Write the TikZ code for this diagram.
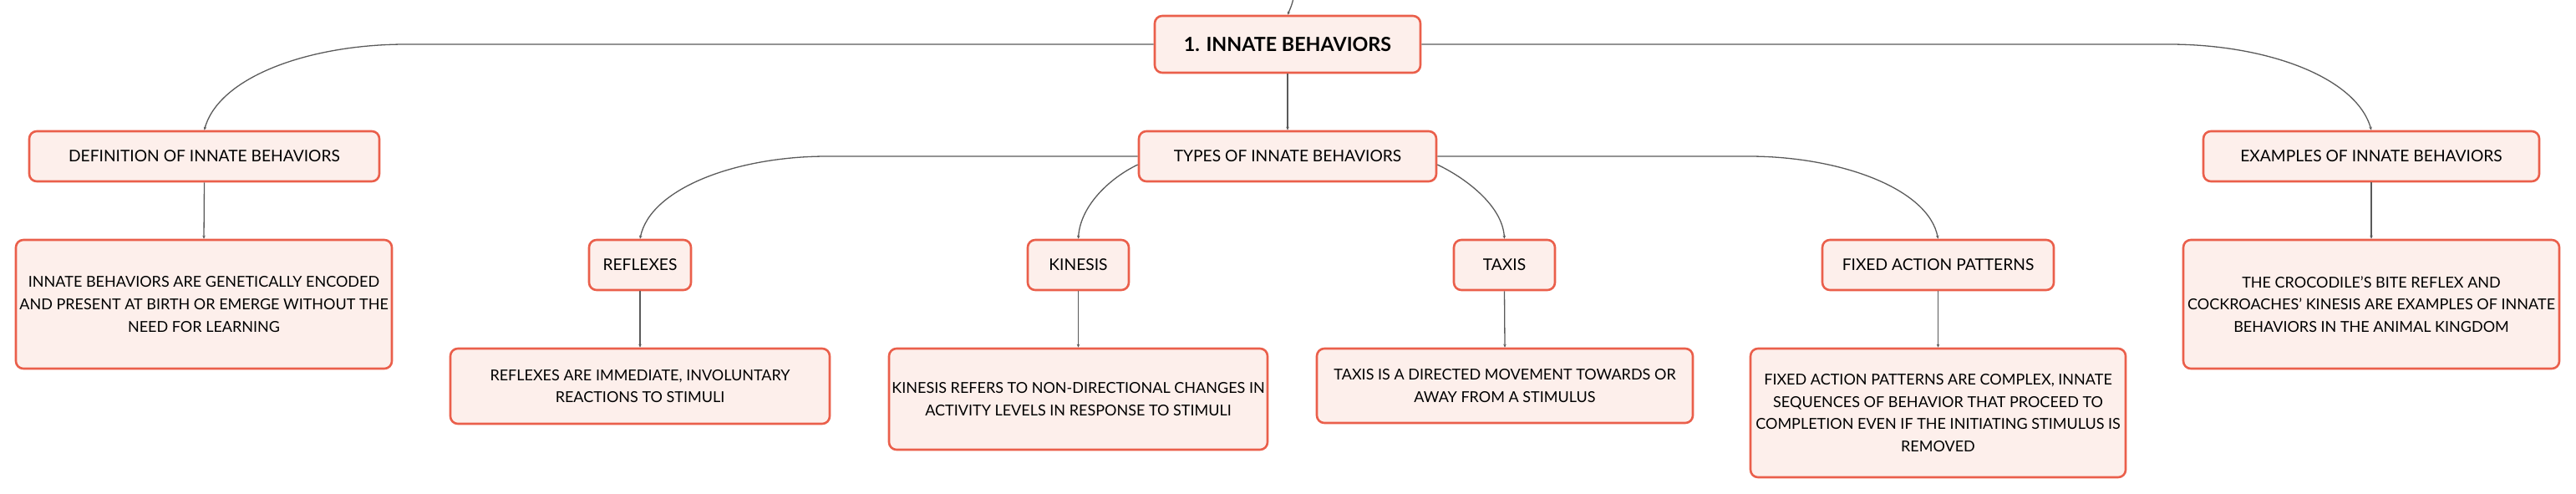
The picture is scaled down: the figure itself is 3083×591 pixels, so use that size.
\documentclass[tikz,border=0pt]{standalone}
\usepackage{fontspec}
\setmainfont{Lato}
\usetikzlibrary{arrows.meta}
\definecolor{bord}{HTML}{EA5F4B}
\definecolor{fillc}{HTML}{FDEFEB}
\definecolor{linec}{HTML}{5A5A5A}
\tikzset{
  mbox/.style={draw=bord, fill=fillc, line width=2.6pt, rounded corners=9pt, align=center, inner sep=0pt, font=\fontsize{19.2}{26.5}\selectfont},
  descbox/.style={mbox, font=\fontsize{18}{26.7}\selectfont},
  rootbox/.style={mbox, font=\fontsize{23.3}{28}\selectfont\bfseries},
  conn/.style={draw=linec, line width=1.3pt, -{Stealth[length=4pt,width=3.5pt]}},
}
\begin{document}
\begin{tikzpicture}[x=1pt,y=-1pt]
\useasboundingbox (0,0) rectangle (3083,591);
% level 0
\node[rootbox, minimum width=318pt, minimum height=68pt] (root) at (1541,53) {1. INNATE BEHAVIORS};
% level 1
\node[mbox, minimum width=419pt, minimum height=60pt] (def) at (244.5,187) {DEFINITION OF INNATE BEHAVIORS};
\node[mbox, minimum width=356pt, minimum height=60pt] (types) at (1541,187) {TYPES OF INNATE BEHAVIORS};
\node[mbox, minimum width=402pt, minimum height=60pt] (ex) at (2838,187) {EXAMPLES OF INNATE BEHAVIORS};
% level 2
\node[descbox, minimum width=450pt, minimum height=154pt] (deft) at (244,364) {INNATE BEHAVIORS ARE GENETICALLY ENCODED\\AND PRESENT AT BIRTH OR EMERGE WITHOUT THE\\NEED FOR LEARNING};
\node[descbox, minimum width=450pt, minimum height=154pt] (ext) at (2838,364) {THE CROCODILE'S BITE REFLEX AND\\COCKROACHES' KINESIS ARE EXAMPLES OF INNATE\\BEHAVIORS IN THE ANIMAL KINGDOM};
\node[mbox, minimum width=122pt, minimum height=60pt] (refl) at (766,317) {REFLEXES};
\node[mbox, minimum width=121pt, minimum height=60pt] (kin) at (1290.5,317) {KINESIS};
\node[mbox, minimum width=121pt, minimum height=60pt] (tax) at (1800.5,317) {TAXIS};
\node[mbox, minimum width=277pt, minimum height=60pt] (fap) at (2319.5,317) {FIXED ACTION PATTERNS};
% level 3
\node[descbox, minimum width=454pt, minimum height=90pt] (reflt) at (766,462) {REFLEXES ARE IMMEDIATE, INVOLUNTARY\\REACTIONS TO STIMULI};
\node[descbox, minimum width=453pt, minimum height=121pt] (kint) at (1290.5,477.5) {KINESIS REFERS TO NON-DIRECTIONAL CHANGES IN\\ACTIVITY LEVELS IN RESPONSE TO STIMULI};
\node[descbox, minimum width=450pt, minimum height=89pt] (taxt) at (1801,461.5) {TAXIS IS A DIRECTED MOVEMENT TOWARDS OR\\AWAY FROM A STIMULUS};
\node[descbox, minimum width=449pt, minimum height=154pt] (fapt) at (2319.5,494) {FIXED ACTION PATTERNS ARE COMPLEX, INNATE\\SEQUENCES OF BEHAVIOR THAT PROCEED TO\\COMPLETION EVEN IF THE INITIATING STIMULUS IS\\REMOVED};
% incoming line from above
\coordinate (above) at (1548,-2);
\draw[conn] (above) .. controls (1546,6) .. (root.north);
% root to level 1
\draw[conn] (root.west) -- (486,53) .. controls (370,53) and (262,92) .. (def.north);
\draw[conn] (root.south) -- (types.north);
\draw[conn] (root.east) -- (2596,53) .. controls (2712,53) and (2820,92) .. (ex.north);
% level 1 to level 2
\draw[conn] (def.south) -- (deft.north);
\draw[conn] (ex.south) -- (ext.north);
\draw[conn] (types.west) -- (990,187) .. controls (880,187) and (778,226) .. (refl.north);
\draw[conn] ([yshift=-10pt]types.west) .. controls (1330,212) and (1293,245) .. (kin.north);
\draw[conn] ([yshift=-10pt]types.east) .. controls (1752,212) and (1798,245) .. (tax.north);
\draw[conn] (types.east) -- (2093,187) .. controls (2203,187) and (2308,226) .. (fap.north);
% level 2 to level 3
\draw[conn] (refl.south) -- (reflt.north);
\draw[conn] (kin.south) -- (kint.north);
\draw[conn] (tax.south) -- (taxt.north);
\draw[conn] (fap.south) -- (fapt.north);
\end{tikzpicture}
\end{document}
